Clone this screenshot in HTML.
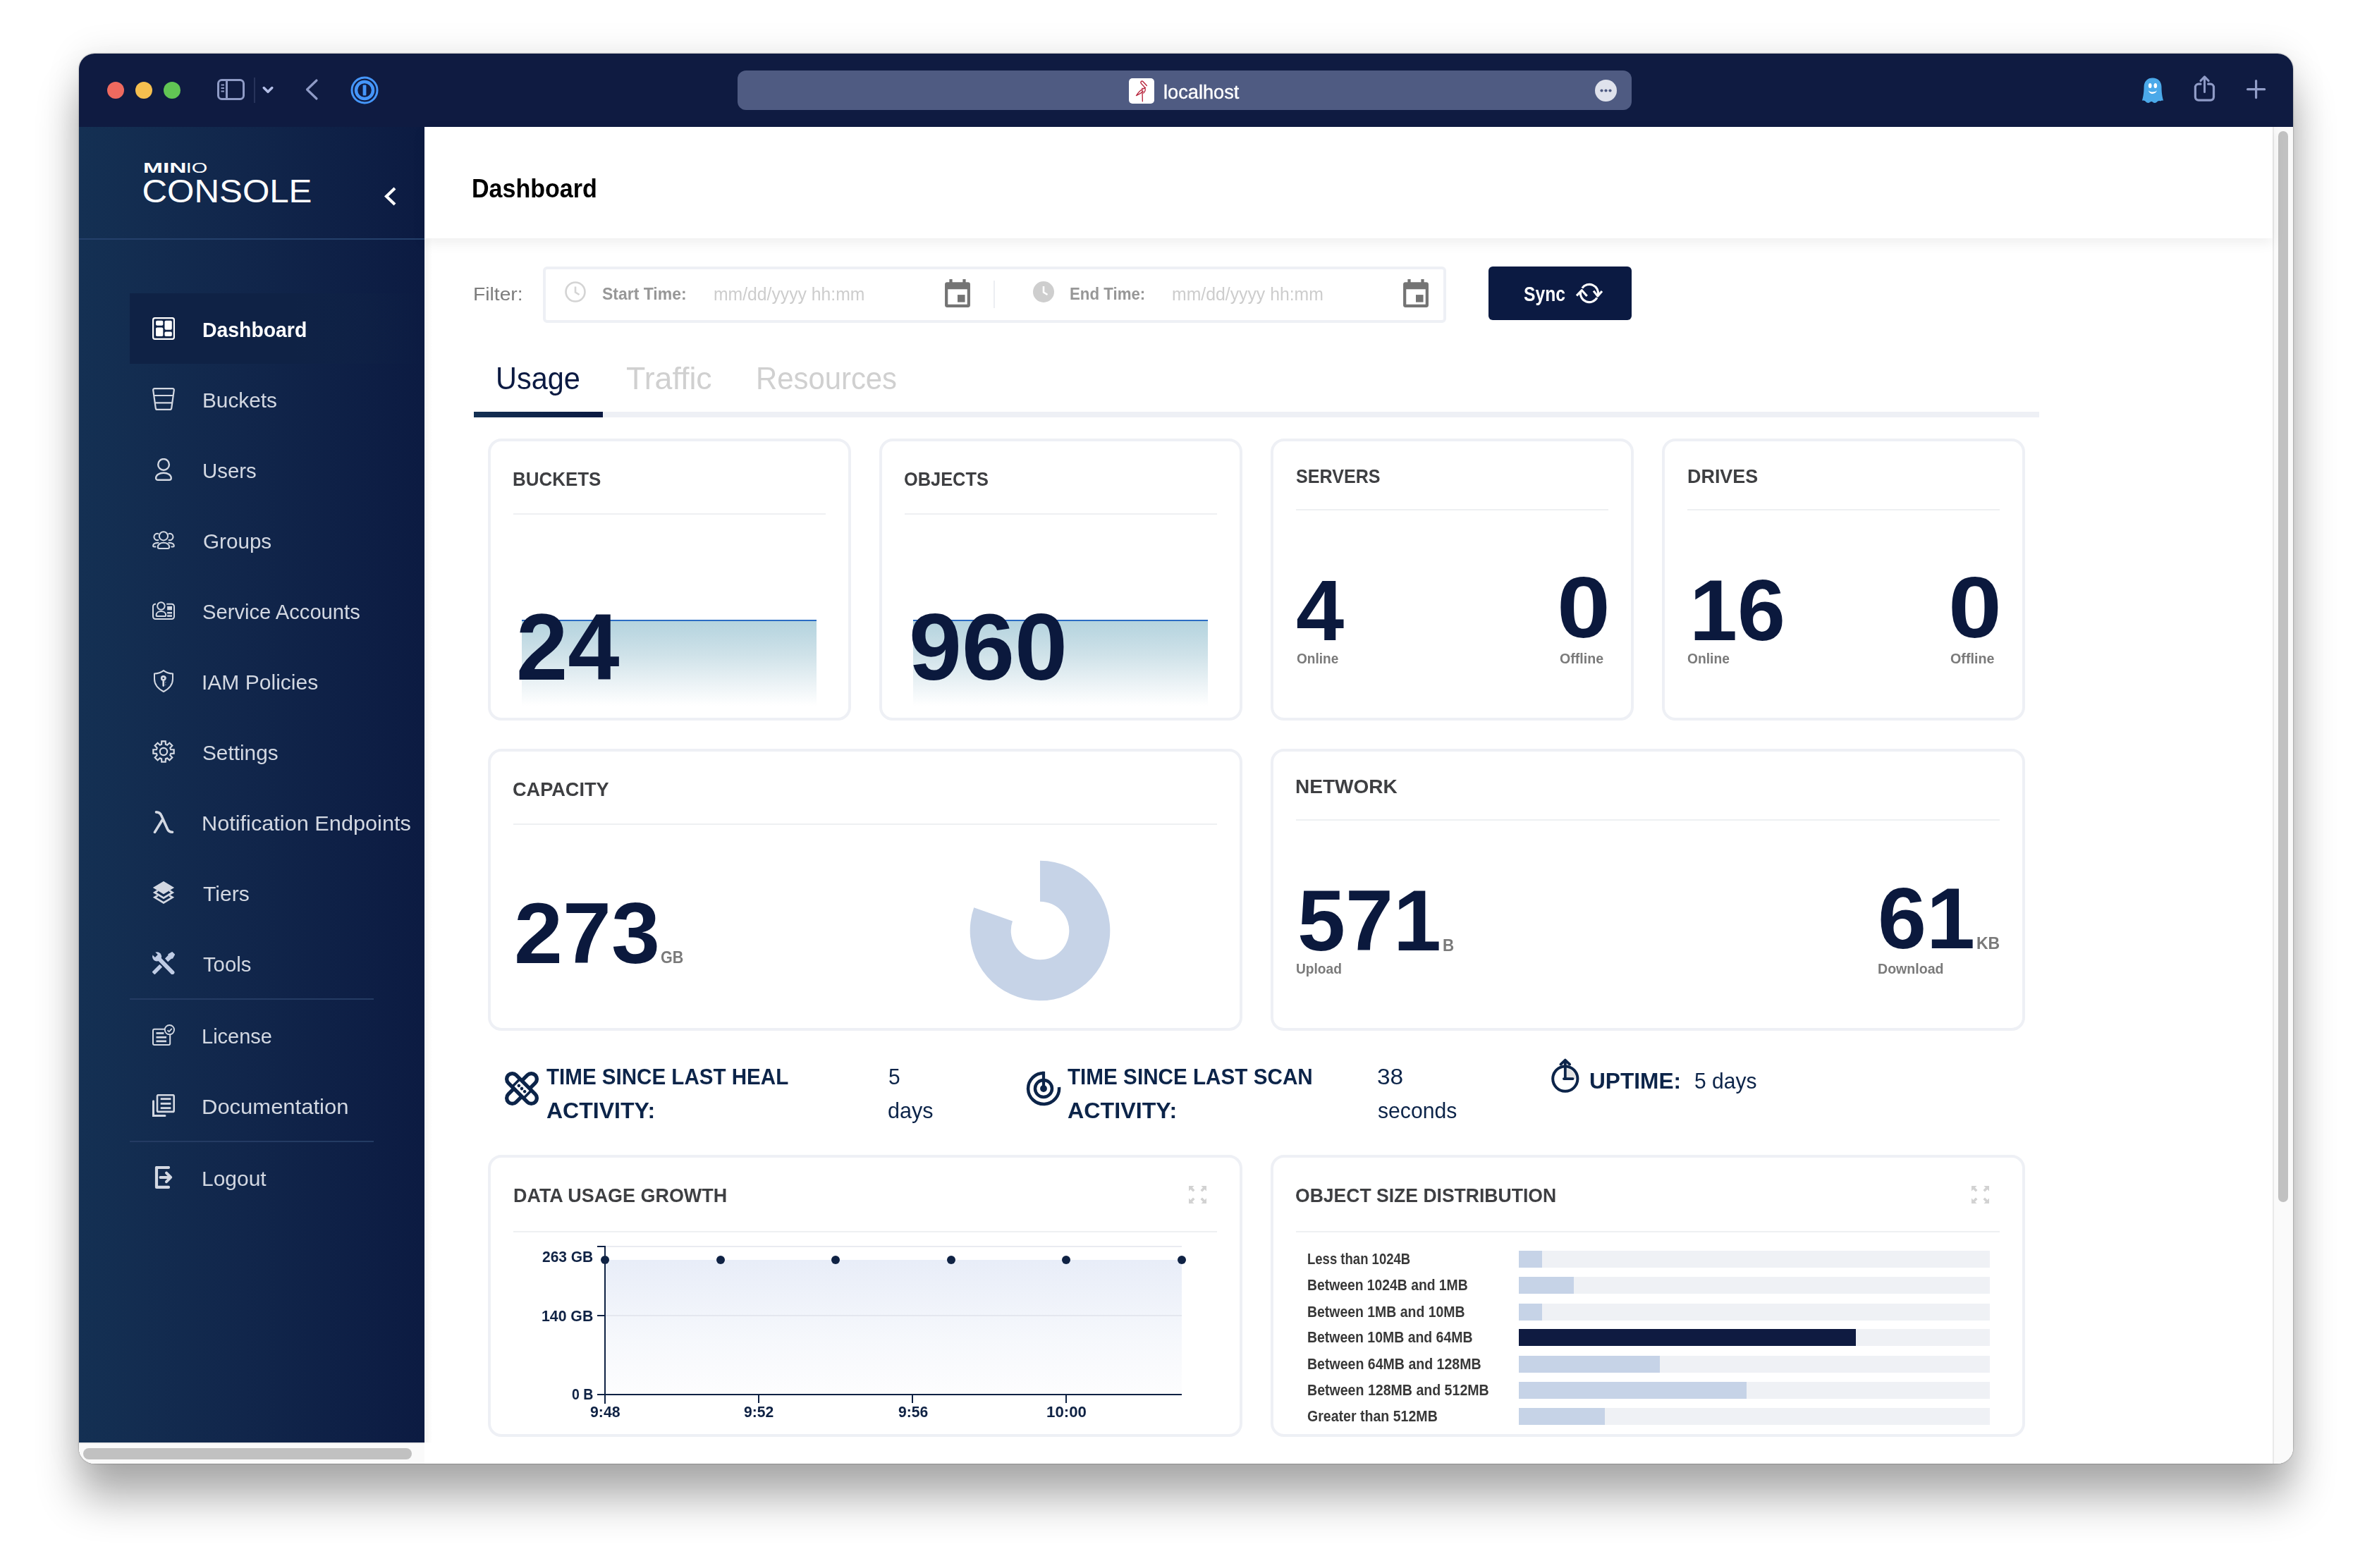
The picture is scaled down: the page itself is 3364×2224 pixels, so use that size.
<!DOCTYPE html>
<html lang="en">
<head>
<meta charset="utf-8">
<title>MinIO Console</title>
<style>
html,body{margin:0;padding:0;}
body{width:3364px;height:2224px;background:#fff;position:relative;overflow:hidden;font-family:"Liberation Sans",sans-serif;}
#win{position:absolute;left:112px;top:76px;width:3140px;height:2000px;border-radius:22px;overflow:hidden;background:#fff;}
#shadow{position:absolute;left:112px;top:76px;width:3140px;height:2000px;border-radius:22px;box-shadow:0 0 2px rgba(0,0,0,.5),0 0 50px rgba(0,0,0,.10),0 50px 60px rgba(0,0,0,.31);}
#o{position:absolute;left:-112px;top:-76px;width:3364px;height:2224px;}
#o *{position:absolute;box-sizing:border-box;white-space:nowrap;}
#o svg *{position:static;}
.t{line-height:1;}
/* title bar */
#tbar{left:112px;top:76px;width:3140px;height:104px;background:#0f1b41;}
#url{left:1046px;top:100px;width:1268px;height:56px;border-radius:12px;background:#4f5b82;}
/* sidebar */
#side{left:112px;top:180px;width:490px;height:1866px;background:linear-gradient(90deg,#143053 0%,#11264b 48%,#0c1b42 100%);}
#sidehr{left:112px;top:338px;width:490px;height:2px;background:#24406b;}
#sel{left:184px;top:416px;width:418px;height:100px;background:linear-gradient(90deg,#0f2245 0%,#0f2245 55%,rgba(15,30,68,0) 100%);}
.nv{left:289px;font-size:30px;color:#d3d8e2;line-height:36px;height:36px;}
.nvb{font-weight:bold;color:#fff;}
.ni{left:216px;width:32px;height:32px;}
.sdiv{left:184px;width:346px;height:2px;background:#243b63;}
/* main */
#main{left:602px;top:180px;width:2621px;height:1866px;background:#fff;}
#hdr{left:602px;top:180px;width:2621px;height:158px;background:#fff;box-shadow:0 6px 18px rgba(0,0,0,.07);}
#vsb{left:3223px;top:180px;width:29px;height:1896px;background:#fafafa;border-left:2px solid #e9e9e9;}
#vth{left:3231px;top:186px;width:14px;height:1519px;border-radius:7px;background:#c1c1c1;}
#hsb{left:112px;top:2046px;width:3111px;height:30px;background:#fff;}
#hsbl{left:112px;top:2046px;width:490px;height:30px;background:#fafafa;border-top:2px solid #ececec;}
#hth{left:118px;top:2054px;width:466px;height:16px;border-radius:8px;background:#c1c1c1;}
.card{border:4px solid #eef0f5;border-radius:19px;background:#fff;}
.ct{font-size:28px;font-weight:bold;color:#3e3f42;line-height:32px;height:32px;}
.chr{height:2px;background:#eef0f2;}
.big{font-weight:bold;color:#0b193d;}
.lbl{font-size:20px;font-weight:bold;color:#7a7a7a;line-height:24px;height:24px;}
.st{font-size:32px;font-weight:bold;color:#0c2449;line-height:48px;}
.sv{font-size:32px;color:#0c2449;line-height:48px;}
.bl{left:1854px;font-size:22px;font-weight:bold;color:#383838;line-height:24px;height:24px;}
.bt{left:2154px;width:668px;height:24px;background:#eff1f5;}
.bf{left:2154px;height:24px;background:#c6d3e7;}
.ax{font-size:22px;font-weight:bold;color:#0f2244;line-height:24px;height:24px;}
</style>
<style id="fit">
#n0{left:286.9px!important;width:auto!important;text-align:left!important;transform:scaleX(0.9461);transform-origin:0 0}
#n1{left:286.8px!important;width:auto!important;text-align:left!important;transform:scaleX(0.9931);transform-origin:0 0}
#n2{left:287.0px!important;width:auto!important;text-align:left!important;transform:scaleX(0.9796);transform-origin:0 0}
#n3{left:288.0px!important;width:auto!important;text-align:left!important;transform:scaleX(0.9878);transform-origin:0 0}
#n4{left:287.3px!important;width:auto!important;text-align:left!important;transform:scaleX(0.9723);transform-origin:0 0}
#n5{left:286.3px!important;width:auto!important;text-align:left!important;transform:scaleX(1.0010);transform-origin:0 0}
#n6{left:287.3px!important;width:auto!important;text-align:left!important;transform:scaleX(0.9925);transform-origin:0 0}
#n7{left:286.3px!important;width:auto!important;text-align:left!important;transform:scaleX(1.0231);transform-origin:0 0}
#n8{left:288.3px!important;width:auto!important;text-align:left!important;transform:scaleX(1.0038);transform-origin:0 0}
#n9{left:288.3px!important;width:auto!important;text-align:left!important;transform:scaleX(0.9749);transform-origin:0 0}
#n10{left:286.4px!important;width:auto!important;text-align:left!important;transform:scaleX(0.9670);transform-origin:0 0}
#n11{left:286.2px!important;width:auto!important;text-align:left!important;transform:scaleX(1.0328);transform-origin:0 0}
#n12{left:286.3px!important;width:auto!important;text-align:left!important;transform:scaleX(0.9986);transform-origin:0 0}
#ttl{left:669.1px!important;width:auto!important;text-align:left!important;transform:scaleX(0.9454);transform-origin:0 0}
#flt{left:671.0px!important;width:auto!important;text-align:left!important;transform:scaleX(1.0859);transform-origin:0 0}
#stt{left:854.3px!important;width:auto!important;text-align:left!important;transform:scaleX(0.9575);transform-origin:0 0}
#ph1{left:1012.4px!important;width:auto!important;text-align:left!important;transform:scaleX(0.9894);transform-origin:0 0}
#ent{left:1516.7px!important;width:auto!important;text-align:left!important;transform:scaleX(0.9282);transform-origin:0 0}
#ph2{left:1662.4px!important;width:auto!important;text-align:left!important;transform:scaleX(0.9917);transform-origin:0 0}
#syn{left:2161.0px!important;width:auto!important;text-align:left!important;transform:scaleX(0.8223);transform-origin:0 0}
#tb1{left:702.9px!important;width:auto!important;text-align:left!important;transform:scaleX(0.9420);transform-origin:0 0}
#tb2{left:887.6px!important;width:auto!important;text-align:left!important;transform:scaleX(1.0160);transform-origin:0 0}
#tb3{left:1071.7px!important;width:auto!important;text-align:left!important;transform:scaleX(0.9510);transform-origin:0 0}
#c1{left:727.4px!important;width:auto!important;text-align:left!important;transform:scaleX(0.9262);transform-origin:0 0}
#c2{left:1282.3px!important;width:auto!important;text-align:left!important;transform:scaleX(0.9060);transform-origin:0 0}
#c3{left:1838.0px!important;width:auto!important;text-align:left!important;transform:scaleX(0.8972);transform-origin:0 0}
#c4{left:2392.7px!important;width:auto!important;text-align:left!important;transform:scaleX(0.9613);transform-origin:0 0}
#c5{left:727.3px!important;width:auto!important;text-align:left!important;transform:scaleX(0.9689);transform-origin:0 0}
#c6{left:1837.2px!important;width:auto!important;text-align:left!important;transform:scaleX(1.0005);transform-origin:0 0}
#c7{left:727.6px!important;width:auto!important;text-align:left!important;transform:scaleX(0.9616);transform-origin:0 0}
#c8{left:1837.1px!important;width:auto!important;text-align:left!important;transform:scaleX(0.9478);transform-origin:0 0}
#b1{left:731.6px!important;width:auto!important;text-align:left!important;transform:scaleX(0.9832);transform-origin:0 0}
#b2{left:1289.4px!important;width:auto!important;text-align:left!important;transform:scaleX(1.0058);transform-origin:0 0}
#b3{left:1837.5px!important;width:auto!important;text-align:left!important;transform:scaleX(1.0045);transform-origin:0 0}
#b4{left:2208.0px!important;width:auto!important;text-align:left!important;transform:scaleX(1.1186);transform-origin:0 0}
#b5{left:2395.9px!important;width:auto!important;text-align:left!important;transform:scaleX(1.0020);transform-origin:0 0}
#b6{left:2763.0px!important;width:auto!important;text-align:left!important;transform:scaleX(1.1186);transform-origin:0 0}
#b7{left:729.0px!important;width:auto!important;text-align:left!important;transform:scaleX(1.0163);transform-origin:0 0}
#b8{left:1840.0px!important;width:auto!important;text-align:left!important;transform:scaleX(1.0015);transform-origin:0 0}
#b9{left:2662.8px!important;width:auto!important;text-align:left!important;transform:scaleX(1.0182);transform-origin:0 0}
#u1{left:937.0px!important;width:auto!important;text-align:left!important;transform:scaleX(0.9354);transform-origin:0 0}
#u2{left:2046.0px!important;width:auto!important;text-align:left!important;transform:scaleX(0.9733);transform-origin:0 0}
#u3{left:2802.7px!important;width:auto!important;text-align:left!important;transform:scaleX(0.9997);transform-origin:0 0}
#l1{left:1838.5px!important;width:auto!important;text-align:left!important;transform:scaleX(0.9516);transform-origin:0 0}
#l2{left:2211.8px!important;width:auto!important;text-align:left!important;transform:scaleX(0.9793);transform-origin:0 0}
#l3{left:2392.9px!important;width:auto!important;text-align:left!important;transform:scaleX(0.9613);transform-origin:0 0}
#l4{left:2766.4px!important;width:auto!important;text-align:left!important;transform:scaleX(0.9856);transform-origin:0 0}
#l5{left:1838.0px!important;width:auto!important;text-align:left!important;transform:scaleX(0.9580);transform-origin:0 0}
#l6{left:2663.4px!important;width:auto!important;text-align:left!important;transform:scaleX(0.9782);transform-origin:0 0}
#s1{left:774.6px!important;width:auto!important;text-align:left!important;transform:scaleX(0.9237);transform-origin:0 0}
#s2{left:774.5px!important;width:auto!important;text-align:left!important;transform:scaleX(1.0006);transform-origin:0 0}
#s3{left:1260.1px!important;width:auto!important;text-align:left!important;transform:scaleX(0.9375);transform-origin:0 0}
#s4{left:1259.4px!important;width:auto!important;text-align:left!important;transform:scaleX(0.9544);transform-origin:0 0}
#s5{left:1514.2px!important;width:auto!important;text-align:left!important;transform:scaleX(0.9270);transform-origin:0 0}
#s6{left:1514.3px!important;width:auto!important;text-align:left!important;transform:scaleX(1.0072);transform-origin:0 0}
#s7{left:1952.7px!important;width:auto!important;text-align:left!important;transform:scaleX(1.0445);transform-origin:0 0}
#s8{left:1953.7px!important;width:auto!important;text-align:left!important;transform:scaleX(0.9417);transform-origin:0 0}
#s9{left:2253.6px!important;width:auto!important;text-align:left!important;transform:scaleX(0.9883);transform-origin:0 0}
#s10{left:2403.1px!important;width:auto!important;text-align:left!important;transform:scaleX(0.9384);transform-origin:0 0}
#d0{left:1853.6px!important;width:auto!important;text-align:left!important;transform:scaleX(0.8419);transform-origin:0 0}
#d1{left:1853.5px!important;width:auto!important;text-align:left!important;transform:scaleX(0.8783);transform-origin:0 0}
#d2{left:1853.5px!important;width:auto!important;text-align:left!important;transform:scaleX(0.8831);transform-origin:0 0}
#d3{left:1853.5px!important;width:auto!important;text-align:left!important;transform:scaleX(0.8838);transform-origin:0 0}
#d4{left:1853.5px!important;width:auto!important;text-align:left!important;transform:scaleX(0.8885);transform-origin:0 0}
#d5{left:1853.5px!important;width:auto!important;text-align:left!important;transform:scaleX(0.8893);transform-origin:0 0}
#d6{left:1854.4px!important;width:auto!important;text-align:left!important;transform:scaleX(0.8890);transform-origin:0 0}
#y1{left:769.4px!important;width:auto!important;text-align:left!important;transform:scaleX(0.9529);transform-origin:0 0}
#y2{left:768.4px!important;width:auto!important;text-align:left!important;transform:scaleX(0.9658);transform-origin:0 0}
#y3{left:811.2px!important;width:auto!important;text-align:left!important;transform:scaleX(0.8876);transform-origin:0 0}
#x1{left:836.7px!important;width:auto!important;text-align:left!important;transform:scaleX(0.9658);transform-origin:0 0}
#x2{left:1055.0px!important;width:auto!important;text-align:left!important;transform:scaleX(0.9590);transform-origin:0 0}
#x3{left:1273.6px!important;width:auto!important;text-align:left!important;transform:scaleX(0.9590);transform-origin:0 0}
#x4{left:1483.9px!important;width:auto!important;text-align:left!important;transform:scaleX(1.0121);transform-origin:0 0}
#lh{left:1649.7px!important;width:auto!important;text-align:left!important;transform:scaleX(1.0079);transform-origin:0 0}
</style>
</head>
<body>
<div id="shadow"></div>
<div id="win"><div id="o">
<div id="tbar"></div>
<div style="left:152px;top:116px;width:24px;height:24px;border-radius:12px;background:#ee6a5f;"></div>
<div style="left:192px;top:116px;width:24px;height:24px;border-radius:12px;background:#f5bf4f;"></div>
<div style="left:232px;top:116px;width:24px;height:24px;border-radius:12px;background:#61c554;"></div>
<svg style="left:306px;top:108px;width:44px;height:38px" viewBox="0 0 44 38"><rect x="3.5" y="5.5" width="36" height="27" rx="5" fill="none" stroke="#8f9bc6" stroke-width="3"/><path d="M15.5 6V32" stroke="#8f9bc6" stroke-width="3"/><path d="M7.5 12.5h4.5M7.5 17h4.5M7.5 21.5h4.5" stroke="#8f9bc6" stroke-width="2"/></svg>
<div style="left:360px;top:110px;width:2px;height:36px;background:#27335a;"></div>
<svg style="left:370px;top:120px;width:20px;height:16px" viewBox="0 0 20 16"><path d="M4.200 4.500L10 10.300L15.800 4.500" fill="none" stroke="#b3bee6" stroke-width="3.500" stroke-linecap="round" stroke-linejoin="round"/></svg>
<svg style="left:430px;top:110px;width:24px;height:34px" viewBox="0 0 24 34"><path d="M19 4L5.5 17L19 30" fill="none" stroke="#8f9bc6" stroke-width="3.2" stroke-linecap="round" stroke-linejoin="round"/></svg>
<svg style="left:496px;top:107px;width:42px;height:42px" viewBox="0 0 42 42"><circle cx="21" cy="21" r="18" fill="#0f1b41" stroke="#4596fa" stroke-width="3"/><circle cx="21" cy="21" r="12" fill="none" stroke="#4596fa" stroke-width="4.5"/><rect x="18.6" y="13.5" width="4.8" height="15" rx="1" fill="#4596fa"/></svg>
<div id="url"></div>
<div style="left:1601px;top:111px;width:36px;height:36px;border-radius:5px;background:#fff;"></div>
<svg style="left:1601px;top:111px;width:36px;height:36px" viewBox="0 0 36 36"><path d="M25.400 10.500L19.800 4.500c-1.500-1.100-3.300.2-2.900 1.800c.5 2 3.600 3.600 5.600 7c1.500 2.700.8 5.300-1.800 7.600M23.500 13.300c-5 1.700-9.600 5.700-13 11.200c3.600-1.400 7-3.300 9.600-6M18.900 14.300L19.350 32.800" fill="none" stroke="#b8283f" stroke-width="1.400" stroke-linecap="round" stroke-linejoin="round"/></svg>
<div class="t" id="lh" style="left:1649px;top:114px;font-size:27px;line-height:34px;color:#fff;-webkit-text-stroke:.35px #fff;">localhost</div>
<div style="left:2262px;top:113px;width:31px;height:31px;border-radius:16px;background:#dfe2ec;"></div>
<svg style="left:2262px;top:113px;width:31px;height:31px" viewBox="0 0 31 31"><circle cx="9.500" cy="15.500" r="2.100" fill="#4f5b82"/><circle cx="15.500" cy="15.500" r="2.100" fill="#4f5b82"/><circle cx="21.500" cy="15.500" r="2.100" fill="#4f5b82"/></svg>
<svg style="left:3036px;top:108px;width:34px;height:40px" viewBox="0 0 34 40"><path d="M17 2.500C9.500 2.500 4.800 7.500 4.600 15C4.500 24 3.500 29.500 1.900 34.800C4.500 34 6 35 7.500 36.500C9 38.300 11.500 38.300 13 37C14.500 35.800 16 35.800 17.200 37C18.700 38.300 21 38.300 22.500 37C24 35.500 26 34.500 27.500 35.500C29.500 34.500 30.500 34.300 32.200 34.800C30.500 29.500 29.600 24 29.500 15C29.300 7.500 24.500 2.500 17 2.500z" fill="#4ba9e9"/><ellipse cx="13.270" cy="13.500" rx="2.300" ry="3.600" fill="#fff"/><ellipse cx="20.830" cy="13.500" rx="2.300" ry="3.600" fill="#fff"/><path d="M10.850 20.300C12.500 26.500 21.300 26.500 22.970 20.300C20.500 23.300 13.300 23.300 10.850 20.300z" fill="#fff"/></svg>
<svg style="left:3108px;top:102px;width:38px;height:46px" viewBox="0 0 38 46"><path d="M13 17.200H10a4.600 4.600 0 0 0-4.600 4.600V35.600a4.600 4.600 0 0 0 4.600 4.600H26.900a4.600 4.600 0 0 0 4.600-4.600V21.800a4.600 4.600 0 0 0-4.600-4.600H23.700" fill="none" stroke="#8f9bc6" stroke-width="3.200" stroke-linecap="round"/><path d="M18.550 28.500V7.200M12.900 12.600L18.550 6.900L24.200 12.600" fill="none" stroke="#8f9bc6" stroke-width="3" stroke-linecap="round" stroke-linejoin="round"/></svg>
<svg style="left:3184px;top:111px;width:32px;height:32px" viewBox="0 0 32 32"><path d="M15.600 3.600V27.600M3.600 15.650H27.600" stroke="#929ec8" stroke-width="3.200" stroke-linecap="round"/></svg>

<!--SIDEBAR_START-->
<div id="side"></div><div id="sidehr"></div><div id="sel"></div>
<svg style="left:200px;top:222px;width:260px;height:76px" viewBox="0 0 260 76"><text id="lg1" x="3" y="23" font-family="Liberation Sans, sans-serif" font-weight="bold" font-size="21" fill="#fff" textLength="61.500" lengthAdjust="spacingAndGlyphs">MIN</text><text id="lg2" x="63.700" y="23" font-family="Liberation Sans, sans-serif" font-size="21" fill="#fff" textLength="30.500" lengthAdjust="spacingAndGlyphs">IO</text><text id="lg3" x="1.500" y="65.200" font-family="Liberation Sans, sans-serif" font-size="46" fill="#fff" textLength="241" lengthAdjust="spacingAndGlyphs">CONSOLE</text></svg>
<svg style="left:540px;top:262px;width:28px;height:32px" viewBox="0 0 28 32"><path d="M20 5L8 16.500L20 28" fill="none" stroke="#fff" stroke-width="4.200"/></svg>
<svg class="ni" style="top:450px" viewBox="0 0 32 32"><rect x="1.100" y="1.100" width="29.800" height="29.800" rx="2.600" fill="none" stroke="#fff" stroke-width="2.200"/><rect x="5" y="4.800" width="10.300" height="6.900" rx="1.800" fill="#fff"/><rect x="5" y="14.400" width="10.300" height="12.700" rx="1.800" fill="#fff"/><rect x="17.500" y="4.800" width="10.300" height="12.900" rx="1.800" fill="#fff"/><rect x="17.500" y="20.400" width="10.300" height="6.700" rx="1.800" fill="#fff"/></svg>
<div class="nv nvb" id="n0" style="top:450px">Dashboard</div>
<svg class="ni" style="top:550px" viewBox="0 0 32 32"><path d="M3.200 1.100H28.800a2 2 0 0 1 2 2.300L27.200 29a2.200 2.200 0 0 1-2.200 1.900H7a2.200 2.200 0 0 1-2.200-1.900L1.200 3.400a2 2 0 0 1 2-2.300zM2.400 11H29.600M3.800 21.400H28.200" fill="none" stroke="#d3d8e2" stroke-width="2.200" stroke-linejoin="round"/></svg>
<div class="nv" id="n1" style="top:550px">Buckets</div>
<svg class="ni" style="top:650px" viewBox="0 0 32 32"><circle cx="16.050" cy="8.900" r="7.850" fill="none" stroke="#d3d8e2" stroke-width="2.400"/><path d="M5.100 28.300c0-4.500 5-7.600 10.850-7.600s10.850 3.100 10.850 7.600c0 1.600-1.200 2.500-2.800 2.500h-16.100c-1.600 0-2.800-.9-2.800-2.500z" fill="none" stroke="#d3d8e2" stroke-width="2.400"/></svg>
<div class="nv" id="n2" style="top:650px">Users</div>
<svg class="ni" style="top:750px" viewBox="0 0 32 32"><g fill="none" stroke="#d3d8e2" stroke-width="2" stroke-linecap="round"><circle cx="15.950" cy="10.350" r="6.100"/><path d="M7.800 25.700c0-3.600 3.700-5.900 8.150-5.900s8.150 2.300 8.150 5.900c0 1.300-.9 2.200-2.200 2.200h-11.900c-1.300 0-2.200-.9-2.200-2.200z"/><path d="M8.300 6.950a4.700 4.700 0 1 0 0 9.100M23.600 6.950a4.700 4.700 0 1 1 0 9.100M8.600 19.800c-4.300.3-7.500 2-7.500 4.300c0 .9.600 1.500 1.600 1.500h1.900M23.300 19.800c4.300.3 7.500 2 7.500 4.300c0 .9-.6 1.500-1.600 1.500h-1.900"/></g></svg>
<div class="nv" id="n3" style="top:750px">Groups</div>
<svg class="ni" style="top:850px" viewBox="0 0 32 32"><g fill="none" stroke="#d3d8e2" stroke-width="2"><path d="M5 6.700H4.500a3.500 3.500 0 0 0-3.500 3.500V24.600a3.500 3.500 0 0 0 3.500 3.500H27.500a3.500 3.500 0 0 0 3.500-3.500V10.200a3.500 3.500 0 0 0-3.500-3.500H20.200"/><circle cx="12.400" cy="9.500" r="5.250"/><path d="M5.600 22.500c0-3.400 3-5.400 6.800-5.400s6.800 2 6.800 5.400c0 1-.6 1.600-1.600 1.600h-10.400c-1 0-1.600-.6-1.600-1.600z"/></g><rect x="21.100" y="9.900" width="6.900" height="5.400" fill="#d3d8e2"/><rect x="21.100" y="18" width="6.900" height="2.500" fill="#d3d8e2"/><rect x="21.100" y="22.300" width="6.900" height="2.600" fill="#d3d8e2"/></svg>
<div class="nv" id="n4" style="top:850px">Service Accounts</div>
<svg class="ni" style="top:950px" viewBox="0 0 32 32"><path d="M16 1.100c-3.500 2.700-8 4.100-13 4.400v7.500c0 8.500 5.500 14 13 18c7.500-4 13-9.500 13-18v-7.500c-5-.3-9.500-1.700-13-4.400z" fill="none" stroke="#d3d8e2" stroke-width="2" stroke-linejoin="round"/><circle cx="15.700" cy="11.900" r="2.500" fill="none" stroke="#d3d8e2" stroke-width="2.600"/><path d="M14.400 15h2.600v8l-1.300 1.200l-1.300-1.200z" fill="#d3d8e2"/><path d="M18.300 9.200c1.600 1 1.800 3 .8 4.300M18 16.500l1.200 1.200l-1.200 1.200M18 20.300l1.100 1.100l-1.100 1.100" fill="none" stroke="#d3d8e2" stroke-width=".8" opacity=".7"/></svg>
<div class="nv" id="n5" style="top:950px">IAM Policies</div>
<svg class="ni" style="top:1050px" viewBox="0 0 32 32"><path d="M13.08 5.81L13.26 1.35L18.74 1.35L18.92 5.81L21.14 6.73L24.42 3.71L28.29 7.58L25.27 10.86L26.19 13.08L30.65 13.26L30.65 18.74L26.19 18.92L25.27 21.14L28.29 24.42L24.42 28.29L21.14 25.27L18.92 26.19L18.74 30.65L13.26 30.65L13.08 26.19L10.86 25.27L7.58 28.29L3.71 24.42L6.73 21.14L5.81 18.92L1.35 18.74L1.35 13.26L5.81 13.08L6.73 10.86L3.71 7.58L7.58 3.71L10.86 6.73z" fill="none" stroke="#d3d8e2" stroke-width="2.200" stroke-linejoin="miter"/><circle cx="16" cy="16" r="5.150" fill="none" stroke="#d3d8e2" stroke-width="2.200"/></svg>
<div class="nv" id="n6" style="top:1050px">Settings</div>
<svg class="ni" style="top:1150px" viewBox="0 0 32 32"><path d="M5.500 1.900c4 0 6 1.500 7.500 5.200L21.500 26c1.300 3 3.200 4.200 7 4.200M13.900 13.500L3.500 30.400" fill="none" stroke="#d3d8e2" stroke-width="3.600" stroke-linecap="round" stroke-linejoin="round"/></svg>
<div class="nv" id="n7" style="top:1150px">Notification Endpoints</div>
<svg class="ni" style="top:1250px" viewBox="0 0 32 32"><path d="M7.850 20.100L3.400 22.800L16 30.450L28.600 22.800L24.150 20.100" fill="none" stroke="#d3d8e2" stroke-width="2.700"/><path d="M7.850 13.200L3.400 15.900L16 23.550L28.600 15.900L24.150 13.200" fill="none" stroke="#d3d8e2" stroke-width="2.700"/><path d="M16 -.1L31.100 9L16 18.200L.8 9z" fill="#d3d8e2"/></svg>
<div class="nv" id="n8" style="top:1250px">Tiers</div>
<svg class="ni" style="top:1350px" viewBox="0 0 32 32"><defs><mask id="wm"><rect x="-2" y="-2" width="36" height="36" fill="#fff"/><rect x="-2.750" y="-9.500" width="5.500" height="8.400" fill="#000" transform="translate(6.600 6.800) rotate(-45)"/></mask></defs><rect x="-2.750" y="0" width="5.500" height="15.400" rx="1" fill="#bfcce5" transform="translate(12.300 19.700) rotate(45)"/><path d="M18 9.500L22.400 5V3.200L28.200 -.1L32.250 3.700L29.100 9.500L26.900 9.900L22.200 14.200z" fill="#bfcce5"/><path d="M9.500 9.700L29.300 30" stroke="#12294e" stroke-width="8.400" stroke-linecap="butt"/><g mask="url(#wm)"><circle cx="6.600" cy="6.800" r="6.600" fill="#bfcce5"/></g><path d="M8.500 8.700L28.500 29.200" stroke="#bfcce5" stroke-width="5.900" stroke-linecap="round"/></svg>
<div class="nv" id="n9" style="top:1350px">Tools</div>
<svg class="ni" style="top:1452px" viewBox="0 0 32 32"><g fill="none" stroke="#d3d8e2" stroke-width="2"><path d="M17 7.800H3a2 2 0 0 0-2 2V28.100a2 2 0 0 0 2 2H23.200a2 2 0 0 0 2-2V16"/><circle cx="24.400" cy="8.600" r="6.650" stroke-width="1.900"/><path d="M21.500 9.300L23.800 11.300L27.800 6.800" stroke-width="1.800"/></g><rect x="5.500" y="12.100" width="10.900" height="2.700" fill="#d3d8e2"/><rect x="5.500" y="17.900" width="14.500" height="2.700" fill="#d3d8e2"/><rect x="5.500" y="23.500" width="14.500" height="2.700" fill="#d3d8e2"/></svg>
<div class="nv" id="n10" style="top:1452px">License</div>
<svg class="ni" style="top:1552px" viewBox="0 0 32 32"><rect x="7" y="1.200" width="23.700" height="23.700" rx="1.500" fill="none" stroke="#d3d8e2" stroke-width="2.600"/><rect x="11.700" y="5.200" width="14.700" height="2.900" fill="#d3d8e2"/><rect x="11.700" y="11.900" width="14.700" height="2.900" fill="#d3d8e2"/><rect x="11.700" y="18.200" width="14.700" height="2.900" fill="#d3d8e2"/><path d="M1.500 9.800V30.500H18" fill="none" stroke="#d3d8e2" stroke-width="3" stroke-linecap="round"/></svg>
<div class="nv" id="n11" style="top:1552px">Documentation</div>
<svg class="ni" style="top:1654px" viewBox="0 0 32 32"><path d="M23 2H6V29.900H23" fill="none" stroke="#d3d8e2" stroke-width="4.200" stroke-linecap="round" stroke-linejoin="round"/><path d="M11.500 15.900H26M20 9.600L26.200 15.900L20 22.200" fill="none" stroke="#d3d8e2" stroke-width="4" stroke-linecap="round" stroke-linejoin="round"/></svg>
<div class="nv" id="n12" style="top:1654px">Logout</div>
<div class="sdiv" style="top:1416px"></div><div class="sdiv" style="top:1618px"></div>
<!--SIDEBAR_END-->
<!--MAIN_START-->
<div id="main"></div>
<div id="vsb"></div><div id="vth"></div><div id="hsb"></div><div id="hsbl"></div><div id="hth"></div>
<div class="t" id="flt" style="left:672px;top:401px;font-size:26px;line-height:32px;color:#7d7d7d;">Filter:</div>
<div style="left:770px;top:378px;width:1281px;height:80px;border:4px solid #eef0f5;border-radius:6px;background:#fff;"></div>
<svg style="left:799px;top:397px;width:34px;height:34px" viewBox="0 0 34 34"><circle cx="17" cy="17" r="13.500" fill="none" stroke="#d4d4d4" stroke-width="2.600"/><path d="M17 9.500V17.500L22.500 21" fill="none" stroke="#d4d4d4" stroke-width="2.600"/></svg>
<div class="t" id="stt" style="left:854px;top:402px;font-size:24px;line-height:30px;font-weight:bold;color:#979797;">Start Time:</div>
<div class="t" id="ph1" style="left:1013px;top:402px;font-size:25px;line-height:30px;color:#cdcdcd;">mm/dd/yyyy hh:mm</div>
<svg style="left:1339px;top:395px;width:38px;height:42px" viewBox="0 0 36 40" preserveAspectRatio="none"><path d="M9 1v7M27 1v7" stroke="#747474" stroke-width="4"/><path d="M4 5h28a3 3 0 0 1 3 3v28a3 3 0 0 1-3 3H4a3 3 0 0 1-3-3V8a3 3 0 0 1 3-3z M5 14.500V35h26V14.500z" fill="#747474" fill-rule="evenodd"/><rect x="18" y="22" width="10" height="10" fill="#747474"/></svg>
<div style="left:1409px;top:398px;width:2px;height:39px;background:#eceef2;"></div>
<svg style="left:1464px;top:398px;width:32px;height:32px" viewBox="0 0 32 32"><circle cx="16" cy="16" r="15" fill="#cecece"/><path d="M16 8V16.500L21.500 20" fill="none" stroke="#fff" stroke-width="2.600"/></svg>
<div class="t" id="ent" style="left:1517px;top:402px;font-size:24px;line-height:30px;font-weight:bold;color:#979797;">End Time:</div>
<div class="t" id="ph2" style="left:1663px;top:402px;font-size:25px;line-height:30px;color:#cdcdcd;">mm/dd/yyyy hh:mm</div>
<svg style="left:1989px;top:395px;width:38px;height:42px" viewBox="0 0 36 40" preserveAspectRatio="none"><path d="M9 1v7M27 1v7" stroke="#747474" stroke-width="4"/><path d="M4 5h28a3 3 0 0 1 3 3v28a3 3 0 0 1-3 3H4a3 3 0 0 1-3-3V8a3 3 0 0 1 3-3z M5 14.500V35h26V14.500z" fill="#747474" fill-rule="evenodd"/><rect x="18" y="22" width="10" height="10" fill="#747474"/></svg>
<div style="left:2111px;top:378px;width:203px;height:76px;border-radius:6px;background:#0b1a42;"></div>
<div class="t" id="syn" style="left:2160px;top:399px;font-size:30px;line-height:36px;font-weight:bold;color:#fff;">Sync</div>
<svg style="left:2234px;top:398px;width:40px;height:36px" viewBox="0 0 40 36"><path d="M9.810 10.590A12.600 12.600 0 0 1 32.410 20.190M30.910 24.300A12.600 12.600 0 0 1 7.680 15.380" fill="none" stroke="#fff" stroke-width="3.100"/><path d="M26 14.600L31.900 22.100L38 14.900M2 21.300L9.400 13.700L16.700 22.100" fill="none" stroke="#fff" stroke-width="3.100" stroke-linejoin="round"/></svg>
<div style="left:602px;top:338px;width:11px;height:1708px;background:linear-gradient(90deg,rgba(0,0,0,.05),rgba(0,0,0,0));"></div>
<div id="hdr"></div>
<div class="t" id="ttl" style="left:670px;top:247px;font-size:36px;line-height:42px;font-weight:bold;color:#000;">Dashboard</div>
<div style="left:672px;top:584px;width:2220px;height:8px;background:#eef0f5;"></div>
<div style="left:672px;top:584px;width:183px;height:8px;background:linear-gradient(90deg,#143053,#0b1a42);"></div>
<div class="t" id="tb1" style="left:704px;top:511px;font-size:44px;line-height:52px;color:#0b1a42;">Usage</div>
<div class="t" id="tb2" style="left:887px;top:511px;font-size:44px;line-height:52px;color:#d0d0d0;">Traffic</div>
<div class="t" id="tb3" style="left:1073px;top:511px;font-size:44px;line-height:52px;color:#d0d0d0;">Resources</div>
<div class="card" style="left:692px;top:622px;width:515px;height:400px;"></div>
<div class="card" style="left:1247px;top:622px;width:515px;height:400px;"></div>
<div class="card" style="left:1802px;top:622px;width:515px;height:400px;"></div>
<div class="card" style="left:2357px;top:622px;width:515px;height:400px;"></div>
<div class="ct" id="c1" style="left:728px;top:664px;">BUCKETS</div>
<div class="chr" style="left:728px;top:728px;width:443px;"></div>
<div class="ct" id="c2" style="left:1283px;top:664px;">OBJECTS</div>
<div class="chr" style="left:1283px;top:728px;width:443px;"></div>
<div class="ct" id="c3" style="left:1838px;top:660px;">SERVERS</div>
<div class="chr" style="left:1838px;top:722px;width:443px;"></div>
<div class="ct" id="c4" style="left:2393px;top:660px;">DRIVES</div>
<div class="chr" style="left:2393px;top:722px;width:443px;"></div>
<div style="left:740px;top:881px;width:418px;height:120px;background:linear-gradient(180deg,#b4d3de 0%,#cfe2e9 40%,#ecf3f6 75%,#fff 100%);"></div>
<div style="left:740px;top:879px;width:418px;height:2px;background:#2b6cc4;"></div>
<div style="left:1295px;top:881px;width:418px;height:120px;background:linear-gradient(180deg,#b4d3de 0%,#cfe2e9 40%,#ecf3f6 75%,#fff 100%);"></div>
<div style="left:1295px;top:879px;width:418px;height:2px;background:#2b6cc4;"></div>
<div class="t big" id="b1" style="left:729px;top:848px;font-size:134px;line-height:140px;">24</div>
<div class="t big" id="b2" style="left:1287px;top:848px;font-size:134px;line-height:140px;">960</div>
<div class="t big" id="b3" style="left:1834px;top:804px;font-size:122px;line-height:124px;">4</div>
<div class="t big" id="b4" style="left:2208px;top:800px;font-size:122px;line-height:124px;">0</div>
<div class="t big" id="b5" style="left:2393px;top:804px;font-size:122px;line-height:124px;">16</div>
<div class="t big" id="b6" style="left:2761px;top:800px;font-size:122px;line-height:124px;">0</div>
<div class="lbl" id="l1" style="left:1838px;top:922px;">Online</div>
<div class="lbl" id="l2" style="left:2211px;top:922px;">Offline</div>
<div class="lbl" id="l3" style="left:2393px;top:922px;">Online</div>
<div class="lbl" id="l4" style="left:2766px;top:922px;">Offline</div>
<div class="card" style="left:692px;top:1062px;width:1070px;height:400px;"></div>
<div class="card" style="left:1802px;top:1062px;width:1070px;height:400px;"></div>
<div class="ct" id="c5" style="left:728px;top:1104px;">CAPACITY</div>
<div class="chr" style="left:728px;top:1168px;width:998px;"></div>
<div class="ct" id="c6" style="left:1838px;top:1100px;">NETWORK</div>
<div class="chr" style="left:1838px;top:1162px;width:998px;"></div>
<div class="t big" id="b7" style="left:727px;top:1262px;font-size:122px;line-height:124px;">273</div>
<div class="t" id="u1" style="left:937px;top:1344px;font-size:23px;line-height:28px;font-weight:bold;color:#7a7a7a;">GB</div>
<svg style="left:1375px;top:1220px;width:200px;height:200px" viewBox="0 0 200 200"><path d="M100.00 0.70A99.3 99.3 0 1 1 6.22 67.34L61.00 86.42A41.3 41.3 0 1 0 100.00 58.70z" fill="#c6d3e7"/></svg>
<div class="t big" id="b8" style="left:1836px;top:1244px;font-size:122px;line-height:124px;">571</div>
<div class="t" id="u2" style="left:2046px;top:1327px;font-size:23px;line-height:28px;font-weight:bold;color:#7a7a7a;">B</div>
<div class="lbl" id="l5" style="left:1839px;top:1362px;">Upload</div>
<div class="t big" id="b9" style="left:2661px;top:1241px;font-size:122px;line-height:124px;">61</div>
<div class="t" id="u3" style="left:2803px;top:1324px;font-size:23px;line-height:28px;font-weight:bold;color:#7a7a7a;">KB</div>
<div class="lbl" id="l6" style="left:2664px;top:1362px;">Download</div>
<svg style="left:714px;top:1518px;width:52px;height:52px" viewBox="0 0 52 52"><g transform="translate(26 26)" fill="none" stroke="#0c2449"><rect x="-7.850" y="-26.950" width="15.700" height="53.900" rx="7.850" stroke-width="5.300" transform="rotate(45)"/><g transform="rotate(-45)"><rect x="-7.850" y="-26.950" width="15.700" height="53.900" rx="7.850" stroke-width="5.300" fill="#fff"/><path d="M-7.850 -11.500H7.850M-7.850 11.500H7.850" stroke-width="3.600"/><circle cx="0" cy="-5.800" r="2.300" fill="#0c2449" stroke="none"/><circle cx="0" cy="0" r="2.300" fill="#0c2449" stroke="none"/><circle cx="0" cy="5.800" r="2.300" fill="#0c2449" stroke="none"/></g></g></svg>
<div class="st" id="s1" style="left:774px;top:1503px;">TIME SINCE LAST HEAL</div>
<div class="st" id="s2" style="left:774px;top:1551px;">ACTIVITY:</div>
<div class="sv" id="s3" style="left:1260px;top:1503px;">5</div>
<div class="sv" id="s4" style="left:1260px;top:1551px;">days</div>
<svg style="left:1453px;top:1517px;width:54px;height:54px" viewBox="0 0 54 54"><g transform="translate(27 27)"><path d="M0 -22A22 22 0 1 0 22 -2" fill="none" stroke="#0c2449" stroke-width="4.500"/><circle r="12" fill="none" stroke="#0c2449" stroke-width="4.500"/><circle r="4.900" fill="#0c2449"/><path d="M0 0V-24.250" stroke="#0c2449" stroke-width="4.200"/></g></svg>
<div class="st" id="s5" style="left:1514px;top:1503px;">TIME SINCE LAST SCAN</div>
<div class="st" id="s6" style="left:1514px;top:1551px;">ACTIVITY:</div>
<div class="sv" id="s7" style="left:1953px;top:1503px;">38</div>
<div class="sv" id="s8" style="left:1953px;top:1551px;">seconds</div>
<svg style="left:2198px;top:1498px;width:44px;height:54px" viewBox="0 0 44 54"><g transform="translate(21.800 32.100)"><path d="M0 0V-15A15 15 0 0 1 15 0z" fill="#e3e3e3"/><circle r="17.600" fill="none" stroke="#0c2449" stroke-width="4"/><path d="M0 0V-25M-6.300 -20.500L0 -26.500L6.300 -20.500M-1.900 0H10.800" fill="none" stroke="#0c2449" stroke-width="3.800" stroke-linecap="round" stroke-linejoin="round"/></g></svg>
<div class="st" id="s9" style="left:2254px;top:1509px;">UPTIME:</div>
<div class="sv" id="s10" style="left:2403px;top:1509px;">5 days</div>
<div class="card" style="left:692px;top:1638px;width:1070px;height:400px;"></div>
<div class="card" style="left:1802px;top:1638px;width:1070px;height:400px;"></div>
<div class="ct" id="c7" style="left:728px;top:1680px;">DATA USAGE GROWTH</div>
<div class="chr" style="left:728px;top:1746px;width:998px;"></div>
<div class="ct" id="c8" style="left:1838px;top:1680px;">OBJECT SIZE DISTRIBUTION</div>
<div class="chr" style="left:1838px;top:1746px;width:998px;"></div>
<svg style="left:1686px;top:1682px;width:25px;height:25px" viewBox="0 0 25 25"><g fill="#d2d2d2"><path d="M0 0h7.500L5 2.500l3.500 3.500l-2.500 2.500l-3.500-3.500L0 7.500z"/><path d="M25 0h-7.500L20 2.500l-3.500 3.500l2.500 2.500l3.500-3.500L25 7.500z"/><path d="M0 25h7.500L5 22.500l3.500-3.500l-2.500-2.500l-3.500 3.500L0 17.500z"/><path d="M25 25h-7.500L20 22.500l-3.500-3.500l2.500-2.500l3.500 3.500L25 17.500z"/></g></svg>
<svg style="left:2796px;top:1682px;width:25px;height:25px" viewBox="0 0 25 25"><g fill="#d2d2d2"><path d="M0 0h7.500L5 2.500l3.500 3.500l-2.500 2.500l-3.500-3.500L0 7.500z"/><path d="M25 0h-7.500L20 2.500l-3.500 3.500l2.500 2.500l3.500-3.500L25 7.500z"/><path d="M0 25h7.500L5 22.500l3.500-3.500l-2.500-2.500l-3.500 3.500L0 17.500z"/><path d="M25 25h-7.500L20 22.500l-3.500-3.500l2.500-2.500l3.500 3.500L25 17.500z"/></g></svg>
<div style="left:858px;top:1787px;width:818px;height:191px;background:linear-gradient(180deg,#e8edf8 0%,#f6f8fc 60%,#fdfdfe 100%);"></div>
<div style="left:858px;top:1767px;width:818px;height:2px;background:#e9ebf1;"></div>
<div style="left:858px;top:1865px;width:818px;height:2px;background:#e4e7ef;"></div>
<div style="left:857px;top:1767px;width:2px;height:224px;background:#0f2244;"></div>
<div style="left:847px;top:1977px;width:829px;height:2px;background:#0f2244;"></div>
<div style="left:847px;top:1767px;width:11px;height:2px;background:#0f2244;"></div>
<div style="left:847px;top:1865px;width:11px;height:2px;background:#0f2244;"></div>
<div style="left:1075px;top:1978px;width:2px;height:12px;background:#0f2244;"></div>
<div style="left:1293px;top:1978px;width:2px;height:12px;background:#0f2244;"></div>
<div style="left:1511px;top:1978px;width:2px;height:12px;background:#0f2244;"></div>
<div style="left:852.2px;top:1781px;width:12px;height:12px;border-radius:6px;background:#0f2244;"></div>
<div style="left:1015.7px;top:1781px;width:12px;height:12px;border-radius:6px;background:#0f2244;"></div>
<div style="left:1179.2px;top:1781px;width:12px;height:12px;border-radius:6px;background:#0f2244;"></div>
<div style="left:1342.7px;top:1781px;width:12px;height:12px;border-radius:6px;background:#0f2244;"></div>
<div style="left:1506.2px;top:1781px;width:12px;height:12px;border-radius:6px;background:#0f2244;"></div>
<div style="left:1669.7px;top:1781px;width:12px;height:12px;border-radius:6px;background:#0f2244;"></div>
<div class="ax" id="y1" style="left:700px;width:141px;text-align:right;top:1771px;">263 GB</div>
<div class="ax" id="y2" style="left:700px;width:141px;text-align:right;top:1855px;">140 GB</div>
<div class="ax" id="y3" style="left:700px;width:141px;text-align:right;top:1966px;">0 B</div>
<div class="ax" id="x1" style="left:798px;width:120px;text-align:center;top:1991px;">9:48</div>
<div class="ax" id="x2" style="left:1016px;width:120px;text-align:center;top:1991px;">9:52</div>
<div class="ax" id="x3" style="left:1234px;width:120px;text-align:center;top:1991px;">9:56</div>
<div class="ax" id="x4" style="left:1452px;width:120px;text-align:center;top:1991px;">10:00</div>
<div class="bl" id="d0" style="top:1774px;">Less than 1024B</div>
<div class="bt" style="top:1774px;"></div>
<div class="bf" style="top:1774px;width:33px;"></div>
<div class="bl" id="d1" style="top:1811px;">Between 1024B and 1MB</div>
<div class="bt" style="top:1811px;"></div>
<div class="bf" style="top:1811px;width:78px;"></div>
<div class="bl" id="d2" style="top:1849px;">Between 1MB and 10MB</div>
<div class="bt" style="top:1849px;"></div>
<div class="bf" style="top:1849px;width:33px;"></div>
<div class="bl" id="d3" style="top:1885px;">Between 10MB and 64MB</div>
<div class="bt" style="top:1885px;"></div>
<div class="bf" style="top:1885px;width:478px;background:#0f1b41;"></div>
<div class="bl" id="d4" style="top:1923px;">Between 64MB and 128MB</div>
<div class="bt" style="top:1923px;"></div>
<div class="bf" style="top:1923px;width:200px;"></div>
<div class="bl" id="d5" style="top:1960px;">Between 128MB and 512MB</div>
<div class="bt" style="top:1960px;"></div>
<div class="bf" style="top:1960px;width:323px;"></div>
<div class="bl" id="d6" style="top:1997px;">Greater than 512MB</div>
<div class="bt" style="top:1997px;"></div>
<div class="bf" style="top:1997px;width:122px;"></div>
<!--MAIN_END-->
</div></div>
</body>
</html>
